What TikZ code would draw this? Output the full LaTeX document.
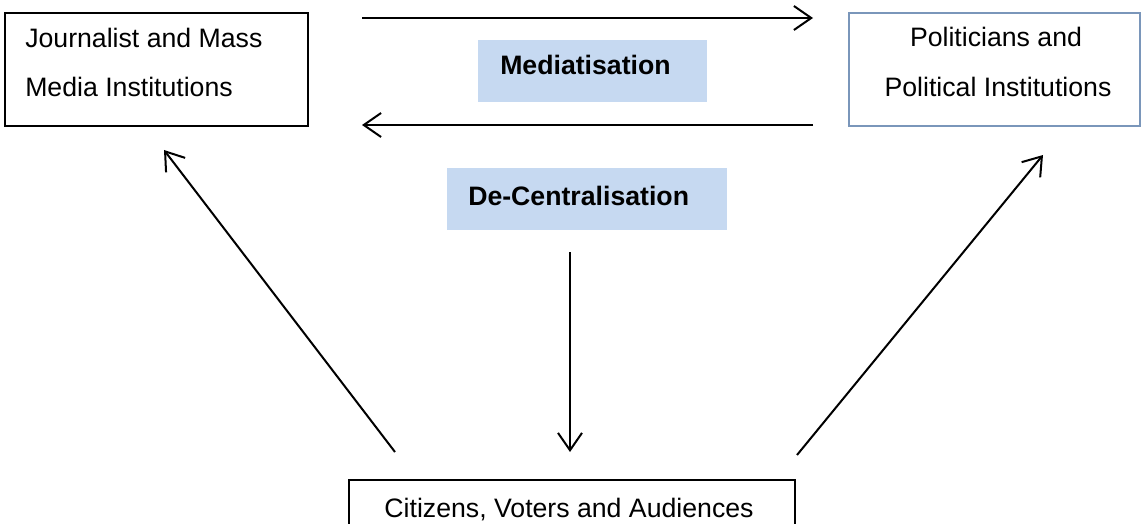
\documentclass[tikz,border=0pt]{standalone}
\usepackage{fontspec}
\setmainfont{Liberation Sans}
\usetikzlibrary{arrows.meta}
\definecolor{pbord}{RGB}{122,150,186}
\definecolor{lblue}{RGB}{198,217,241}
\begin{document}
\begin{tikzpicture}[x=0.75pt,y=-0.75pt,
  txt/.style={font=\fontsize{20}{24}\selectfont, inner sep=0pt},
  btxt/.style={font=\fontsize{20}{24}\selectfont\bfseries, inner sep=0pt},
  arr/.style={line width=1.5pt, -{Straight Barb[length=13pt,width=18pt]}},
  lbl/.style={fill=lblue, inner sep=0pt}]
\useasboundingbox (0,0) rectangle (1142,524);
% boxes
\node[draw, line width=1.5pt, minimum width=303*0.75pt, minimum height=113*0.75pt, inner sep=0pt] (jm) at (156.5,69.5) {};
\node[draw=pbord, line width=0.8pt, minimum width=291*0.75pt, minimum height=113*0.75pt, inner sep=0pt] (pol) at (994.5,69.5) {};
\node[draw, line width=1pt, minimum width=446*0.75pt, minimum height=80*0.75pt, inner sep=0pt] (cit) at (572,520) {};
\node[lbl, minimum width=229*0.75pt, minimum height=62*0.75pt] (medbox) at (592.5,71) {};
\node[lbl, minimum width=280*0.75pt, minimum height=62*0.75pt] (decbox) at (587,199) {};
% texts
\node[txt, anchor=base west] (jm1) at (25,48) {Journalist and Mass};
\node[txt, anchor=base west] (jm2) at (25,97) {Media Institutions};
\node[txt, anchor=base] (pol1) at (996,47) {Politicians and};
\node[txt, anchor=base] (pol2) at (998,97) {Political Institutions};
\node[btxt, anchor=base west] (med) at (500,75) {Mediatisation};
\node[btxt, anchor=base west] (dec) at (468,205) {De-Centralisation};
\node[txt, anchor=base] (cit1) at (569,517) {Citizens, Voters and Audiences};
% connector ends
\coordinate (ta) at (362,18);
\coordinate (tb) at (813,18);
\coordinate (ba) at (813,125);
\coordinate (bb) at (362,125);
\coordinate (la) at (395,452);
\coordinate (lb) at (164,150);
\coordinate (ra) at (797,455);
\coordinate (rb) at (1043,155);
\coordinate (va) at (570,252);
\coordinate (vb) at (570,452);
% arrows
\draw[arr] (ta) -- (tb);
\draw[arr] (ba) -- (bb);
\draw[arr] (la) -- (lb);
\draw[arr] (ra) -- (rb);
\draw[arr] (va) -- (vb);
\end{tikzpicture}
\end{document}
